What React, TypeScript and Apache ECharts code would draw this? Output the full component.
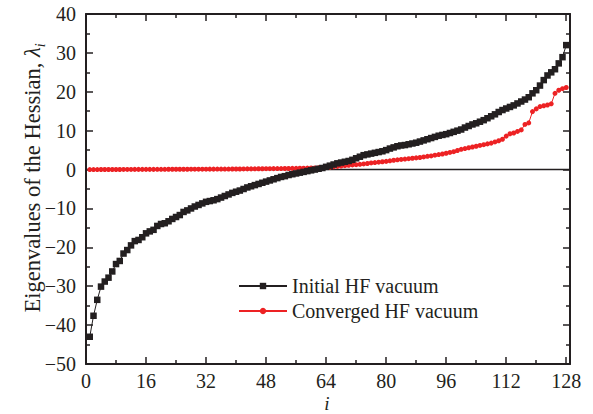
import React, { useEffect, useRef } from "react";
import * as echarts from "echarts";

// Eigenvalue index i = 1 … 128
const indices: number[] = Array.from({ length: 128 }, (_, k) => k + 1);

// Eigenvalues of the Hessian at the initial HF vacuum
const initialHF: number[] = [
  -43.0, -37.6, -33.5, -30.1, -28.8, -27.8, -26.2, -24.3, -23.5, -21.6,
  -20.7, -19.5, -18.4, -18.1, -17.4, -16.4, -15.9, -15.5, -14.5, -14.0,
  -13.8, -13.3, -12.7, -12.2, -11.7, -10.9, -10.5, -10.0, -9.5, -9.1,
  -8.7, -8.3, -8.1, -7.9, -7.6, -7.2, -6.8, -6.4, -6.0, -5.7,
  -5.4, -5.0, -4.6, -4.3, -4.0, -3.7, -3.4, -3.1, -2.8, -2.5,
  -2.2, -1.9, -1.7, -1.4, -1.2, -1.0, -0.8, -0.6, -0.4, -0.2,
  0.0, 0.2, 0.4, 0.7, 1.0, 1.3, 1.6, 1.8, 2.0, 2.2,
  2.5, 2.9, 3.3, 3.7, 3.9, 4.1, 4.3, 4.5, 4.7, 5.0,
  5.4, 5.7, 6.0, 6.2, 6.3, 6.5, 6.7, 6.9, 7.2, 7.5,
  7.8, 8.1, 8.4, 8.7, 8.9, 9.1, 9.4, 9.7, 10.0, 10.3,
  10.8, 11.2, 11.6, 11.9, 12.3, 12.7, 13.2, 13.7, 14.2, 14.8,
  15.3, 15.7, 16.1, 16.5, 17.0, 17.5, 18.0, 18.6, 19.6, 20.4,
  21.6, 23.0, 24.2, 25.0, 25.8, 27.3, 28.9, 32.0,
];

// Eigenvalues of the Hessian at the converged HF vacuum
const convergedHF: number[] = [
  0.0, 0.0, 0.0, 0.01, 0.01, 0.01, 0.02, 0.02, 0.02, 0.03,
  0.03, 0.03, 0.04, 0.04, 0.04, 0.05, 0.05, 0.05, 0.06, 0.06,
  0.06, 0.07, 0.07, 0.07, 0.08, 0.08, 0.08, 0.09, 0.09, 0.1,
  0.1, 0.1, 0.11, 0.11, 0.12, 0.12, 0.13, 0.13, 0.14, 0.14,
  0.15, 0.16, 0.17, 0.18, 0.19, 0.2, 0.21, 0.22, 0.23, 0.24,
  0.25, 0.26, 0.27, 0.28, 0.3, 0.32, 0.34, 0.36, 0.38, 0.4,
  0.42, 0.45, 0.48, 0.52, 0.6, 0.7, 0.8, 0.9, 1.0, 1.1,
  1.2, 1.25, 1.35, 1.45, 1.55, 1.7, 1.8, 1.9, 2.0, 2.1,
  2.25, 2.4, 2.5, 2.6, 2.7, 2.8, 2.9, 3.0, 3.1, 3.25,
  3.4, 3.5, 3.7, 3.85, 4.0, 4.2, 4.4, 4.6, 4.9, 5.2,
  5.4, 5.6, 5.8, 6.0, 6.2, 6.4, 6.6, 6.8, 7.1, 7.4,
  7.8, 8.6, 9.2, 9.4, 9.8, 10.2, 11.6, 12.0, 14.9, 15.6,
  16.2, 16.4, 16.6, 16.9, 19.6, 20.4, 20.8, 21.1,
];

// Horizontal reference line at λ = 0
const zeroLineX: number[] = [0, 129];
const zeroLineY: number[] = [0, 0];

const seriesNames: string[] = ["Initial HF vacuum", "Converged HF vacuum"];

const X_MIN = 0;
const X_MAX = 129;
const X_STEP = 16;
const Y_MIN = -50;
const Y_MAX = 40;
const Y_STEP = 10;

const INK = "#231f20";
const RED = "#ed2224";
const FONT = "'Liberation Serif', 'Times New Roman', serif";

export default function App() {
  const ref = useRef<HTMLDivElement>(null);

  useEffect(() => {
    if (!ref.current) return;
    const chart = echarts.init(ref.current, undefined, { renderer: "svg" });

    const axisLine = { show: true, onZero: false, lineStyle: { color: INK, width: 2 } };
    const tick = { show: true, inside: true, length: 7, lineStyle: { color: INK, width: 1.5 } };
    const minor = { show: true, splitNumber: 2, length: 4, lineStyle: { color: INK, width: 1.5 } };

    chart.setOption({
      animation: false,
      backgroundColor: "#ffffff",
      grid: {
        left: 86,
        right: 23,
        top: 14,
        bottom: 50,
        containLabel: false,
        outerBoundsMode: "none",
      },
      legend: {
        data: seriesNames,
        orient: "vertical",
        left: 233,
        top: 271,
        itemWidth: 48,
        itemHeight: 8,
        itemGap: 5,
        textStyle: { fontFamily: FONT, fontSize: 20, color: INK },
      },
      xAxis: [
        {
          type: "value",
          position: "bottom",
          min: X_MIN,
          max: X_MAX,
          interval: X_STEP,
          axisLine,
          axisTick: tick,
          minorTick: minor,
          splitLine: { show: false },
          axisLabel: {
            margin: 7,
            fontFamily: FONT,
            fontSize: 20,
            lineHeight: 20,
            color: INK,
            formatter: (v: number) => (v % X_STEP === 0 ? String(v) : ""),
          },
        },
        {
          type: "value",
          position: "top",
          min: X_MIN,
          max: X_MAX,
          interval: X_STEP,
          axisLine,
          axisTick: tick,
          minorTick: minor,
          splitLine: { show: false },
          axisLabel: { show: false },
        },
      ],
      yAxis: [
        {
          type: "value",
          position: "left",
          min: Y_MIN,
          max: Y_MAX,
          interval: Y_STEP,
          axisLine,
          axisTick: tick,
          minorTick: minor,
          splitLine: { show: false },
          axisLabel: {
            margin: 10,
            fontFamily: FONT,
            fontSize: 20,
            color: INK,
            formatter: (v: number) => String(v).replace("-", "\u2212"),
          },
        },
        {
          type: "value",
          position: "right",
          min: Y_MIN,
          max: Y_MAX,
          interval: Y_STEP,
          axisLine,
          axisTick: tick,
          minorTick: minor,
          splitLine: { show: false },
          axisLabel: { show: false },
        },
      ],
      graphic: [
        {
          // x-axis title
          type: "text",
          x: 327,
          y: 403,
          style: {
            text: "i",
            align: "center",
            verticalAlign: "middle",
            fontFamily: FONT,
            fontSize: 19,
            lineHeight: 19,
            fontStyle: "italic",
            fill: INK,
          },
        },
        {
          // y-axis title
          type: "text",
          x: 32,
          y: 178,
          rotation: Math.PI / 2,
          style: {
            text: "{n|Eigenvalues of the Hessian, }{l|λ}{s|i}",
            align: "center",
            verticalAlign: "middle",
            fill: INK,
            rich: {
              n: { fontFamily: FONT, fontSize: 22.5, fill: INK, lineHeight: 30 },
              l: { fontFamily: FONT, fontSize: 22.5, fontStyle: "italic", fill: INK, lineHeight: 30 },
              s: {
                fontFamily: FONT,
                fontSize: 14,
                fontStyle: "italic",
                fill: INK,
                lineHeight: 30,
                verticalAlign: "bottom",
              },
            },
          },
        },
      ],
      series: [
        {
          name: "zero",
          type: "line",
          xAxisIndex: 0,
          yAxisIndex: 0,
          data: zeroLineX.map((x, k) => [x, zeroLineY[k]]),
          showSymbol: false,
          symbol: "none",
          silent: true,
          z: 1,
          lineStyle: { color: INK, width: 1.5 },
        },
        {
          name: seriesNames[0],
          type: "line",
          xAxisIndex: 0,
          yAxisIndex: 0,
          data: indices.map((i, k) => [i, initialHF[k]]),
          symbol: "rect",
          symbolSize: 6.5,
          z: 3,
          itemStyle: { color: INK },
          lineStyle: { color: INK, width: 1 },
        },
        {
          name: seriesNames[1],
          type: "line",
          xAxisIndex: 0,
          yAxisIndex: 0,
          data: indices.map((i, k) => [i, convergedHF[k]]),
          symbol: "circle",
          symbolSize: 5,
          z: 2,
          itemStyle: { color: RED },
          lineStyle: { color: RED, width: 1 },
        },
      ],
    });

    return () => chart.dispose();
  }, []);

  return (
    <div
      ref={ref}
      style={{ position: "fixed", left: 0, top: 0, width: 593, height: 414, background: "#fff" }}
    />
  );
}
